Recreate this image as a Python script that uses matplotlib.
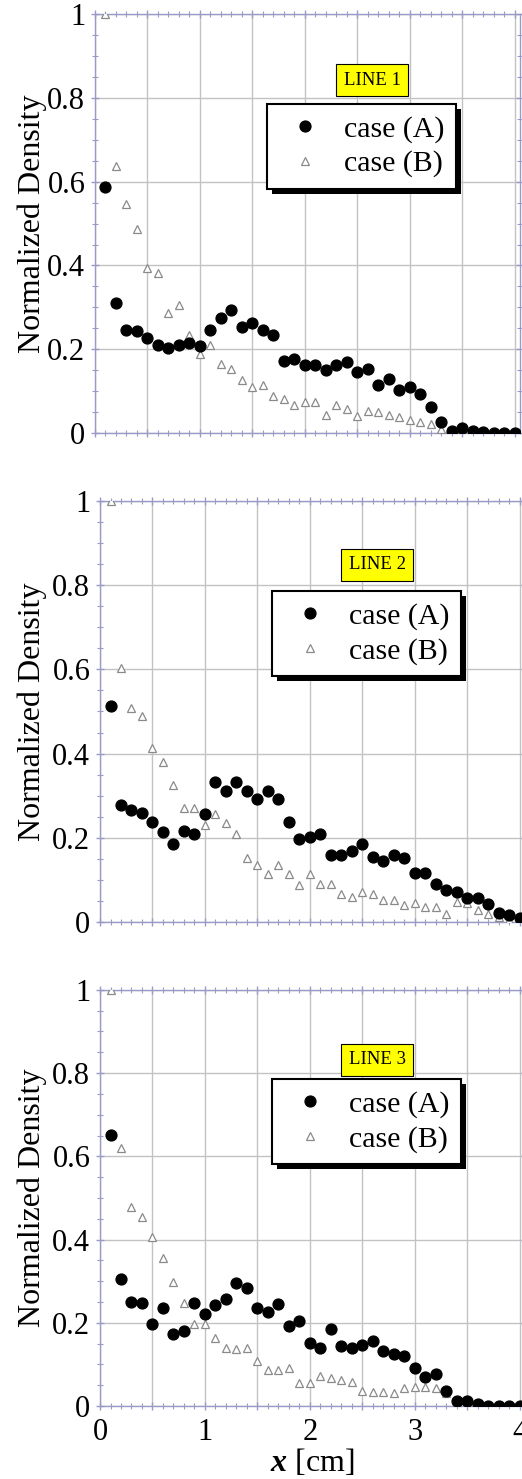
import numpy as np
import matplotlib
matplotlib.use("Agg")
import matplotlib.pyplot as plt
from matplotlib.ticker import MultipleLocator, FixedLocator, FixedFormatter
from matplotlib.transforms import blended_transform_factory
from matplotlib.patches import Rectangle

plt.rcParams['font.family'] = ['Liberation Serif', 'DejaVu Serif']
plt.rcParams['mathtext.fontset'] = 'custom'
plt.rcParams['mathtext.it'] = 'Liberation Serif:italic:bold'
plt.rcParams['mathtext.rm'] = 'Liberation Serif'

# positions along the line [cm]
x_cm = [0.1, 0.2, 0.3, 0.4, 0.5, 0.6, 0.7, 0.8, 0.9, 1.0,
        1.1, 1.2, 1.3, 1.4, 1.5, 1.6, 1.7, 1.8, 1.9, 2.0,
        2.1, 2.2, 2.3, 2.4, 2.5, 2.6, 2.7, 2.8, 2.9, 3.0,
        3.1, 3.2, 3.3, 3.4, 3.5, 3.6, 3.7, 3.8, 3.9, 4.0]

line1_a = [0.587, 0.311, 0.247, 0.243, 0.226, 0.210, 0.202, 0.211, 0.214, 0.207,
           0.247, 0.274, 0.294, 0.254, 0.262, 0.246, 0.235, 0.172, 0.176, 0.162,
           0.162, 0.150, 0.162, 0.170, 0.146, 0.154, 0.114, 0.130, 0.102, 0.110,
           0.094, 0.061, 0.026, 0.006, 0.013, 0.006, 0.002, 0.0, 0.0, 0.0]
line1_b = [1.000, 0.637, 0.547, 0.487, 0.393, 0.381, 0.287, 0.306, 0.234, 0.188,
           0.210, 0.164, 0.152, 0.126, 0.110, 0.114, 0.088, 0.082, 0.066, 0.074,
           0.074, 0.042, 0.066, 0.058, 0.040, 0.053, 0.050, 0.042, 0.038, 0.032,
           0.026, 0.022, 0.010, 0.003, 0.0, 0.0, 0.0, 0.0, 0.0, 0.0]

line2_a = [0.512, 0.279, 0.266, 0.260, 0.238, 0.214, 0.185, 0.217, 0.210, 0.256,
           0.333, 0.310, 0.332, 0.310, 0.291, 0.311, 0.291, 0.238, 0.196, 0.201,
           0.208, 0.159, 0.159, 0.169, 0.185, 0.155, 0.145, 0.160, 0.152, 0.117,
           0.117, 0.090, 0.077, 0.071, 0.058, 0.058, 0.042, 0.021, 0.016, 0.010]
line2_b = [1.000, 0.603, 0.508, 0.490, 0.413, 0.381, 0.325, 0.270, 0.270, 0.230,
           0.256, 0.236, 0.210, 0.151, 0.135, 0.115, 0.135, 0.115, 0.087, 0.115,
           0.091, 0.091, 0.067, 0.060, 0.071, 0.067, 0.053, 0.053, 0.040, 0.046,
           0.036, 0.036, 0.020, 0.048, 0.045, 0.029, 0.020, 0.012, 0.005, 0.0]

line3_a = [0.651, 0.305, 0.251, 0.248, 0.196, 0.235, 0.173, 0.179, 0.248, 0.220,
           0.243, 0.256, 0.296, 0.283, 0.236, 0.225, 0.245, 0.191, 0.203, 0.151,
           0.139, 0.184, 0.143, 0.139, 0.147, 0.157, 0.133, 0.125, 0.119, 0.091,
           0.069, 0.077, 0.037, 0.012, 0.012, 0.004, 0.0, 0.0, 0.0, 0.0]
line3_b = [1.000, 0.619, 0.479, 0.454, 0.405, 0.355, 0.299, 0.248, 0.196, 0.196,
           0.163, 0.139, 0.136, 0.140, 0.107, 0.087, 0.087, 0.092, 0.056, 0.056,
           0.072, 0.068, 0.063, 0.058, 0.036, 0.033, 0.034, 0.030, 0.042, 0.045,
           0.045, 0.042, 0.030, 0.010, 0.0, 0.0, 0.0, 0.0, 0.0, 0.0]

panels = [("LINE 1", line1_a, line1_b),
          ("LINE 2", line2_a, line2_b),
          ("LINE 3", line3_a, line3_b)]

y_ticks = [0, 0.2, 0.4, 0.6, 0.8, 1.0]
y_ticklabels = ["0", "0.2", "0.4", "0.6", "0.8", "1"]
x_ticks = [0, 0.5, 1, 1.5, 2, 2.5, 3, 3.5, 4]
x_ticklabels = ["0", "", "1", "", "2", "", "3", "", "4"]

# axes rectangles in figure fraction: left, bottom, width, height
rects = [[0.182, 0.7072, 0.814, 0.2833],
         [0.1916, 0.3766, 0.814, 0.2847],
         [0.1916, 0.0494, 0.814, 0.2813]]
tag_y = [0.842, 0.848, 0.832]

spine_col = "#9a9ac8"
grid_col = "#c2c2c2"

fig = plt.figure(figsize=(5.22, 14.79), dpi=100)
legends = []

for i, (tag, ya, yb) in enumerate(panels):
    ax = fig.add_axes(rects[i])
    ax.set_xlim(0, 4.05)
    ax.set_ylim(0, 1.0)

    ax.plot(x_cm, yb, linestyle="none", marker="^", markersize=5.5,
            markerfacecolor="white", markeredgecolor="#8a8a8a",
            markeredgewidth=0.9, label="case (B)", zorder=3)
    ax.plot(x_cm, ya, linestyle="none", marker="o", markersize=7.8,
            color="black", label="case (A)", zorder=4)

    ax.xaxis.set_major_locator(FixedLocator(x_ticks))
    ax.xaxis.set_minor_locator(MultipleLocator(0.1))
    ax.yaxis.set_major_locator(FixedLocator(y_ticks))
    ax.yaxis.set_minor_locator(MultipleLocator(0.05))
    ax.yaxis.set_major_formatter(FixedFormatter(y_ticklabels))
    if i == 2:
        ax.xaxis.set_major_formatter(FixedFormatter(x_ticklabels))
        ax.set_xlabel(r"$x$ [cm]", fontsize=23, labelpad=0)
    else:
        ax.xaxis.set_major_formatter(FixedFormatter([""] * len(x_ticks)))

    ax.grid(True, which="major", color=grid_col, linewidth=1.0, zorder=0)
    ax.set_axisbelow(True)
    for s in ax.spines.values():
        s.set_color(spine_col)
        s.set_linewidth(1.0)
    ax.tick_params(which="both", direction="inout", top=True, right=True,
                   color=spine_col)
    ax.tick_params(which="major", length=6, width=1.0, labelsize=22, pad=4)
    ax.tick_params(which="minor", length=4, width=0.8)
    ax.tick_params(axis="x", which="major", pad=6)

    # y label placed at a fixed distance from the figure's left edge
    ax.set_ylabel("Normalized Density", fontsize=23)
    ax.yaxis.set_label_coords(
        47 / 522, 0.5,
        transform=blended_transform_factory(fig.transFigure, ax.transAxes))

    handles, labels = ax.get_legend_handles_labels()
    leg = ax.legend(handles[::-1], labels[::-1], loc="upper left",
                    bbox_to_anchor=(0.405, 0.785), fontsize=21.5,
                    frameon=True, fancybox=False, framealpha=1.0,
                    borderpad=0.38, labelspacing=0.25, handletextpad=0.4,
                    handlelength=1.8, borderaxespad=0)
    leg.get_frame().set_edgecolor("black")
    leg.get_frame().set_facecolor("white")
    leg.get_frame().set_linewidth(1.5)
    leg.set_zorder(6)
    legends.append((ax, leg))

    ax.text(0.652, tag_y[i], tag, transform=ax.transAxes, fontsize=13.5,
            ha="center", va="center", zorder=7,
            bbox=dict(boxstyle="square,pad=0.4", facecolor="#ffff00",
                      edgecolor="black", linewidth=0.8))

# solid drop shadow behind each legend box
fig.canvas.draw()
for ax, leg in legends:
    bb = leg.get_window_extent()
    ax.add_patch(Rectangle((bb.x0 + 5, bb.y0 - 5), bb.width, bb.height,
                           transform=None, facecolor="black",
                           edgecolor="none", zorder=5.5, clip_on=False))

fig.savefig("out.png", dpi=100)
